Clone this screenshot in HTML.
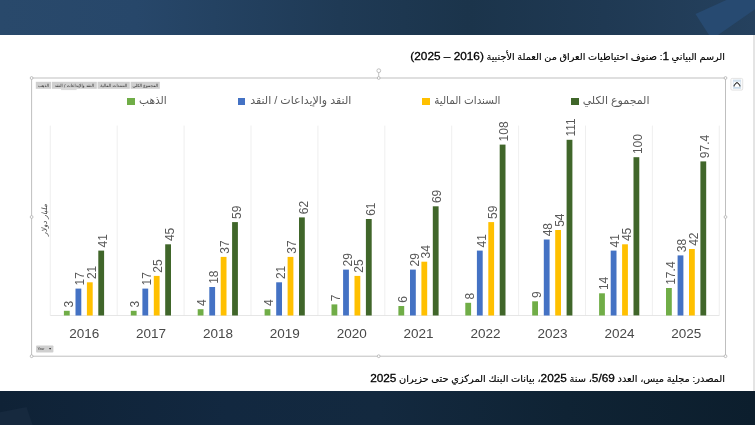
<!DOCTYPE html>
<html lang="ar">
<head>
<meta charset="utf-8">
<title>الرسم البياني 1</title>
<style>
html,body{margin:0;padding:0;}
body{width:755px;height:425px;overflow:hidden;background:#fff;position:relative;font-family:"Liberation Sans","DejaVu Sans",sans-serif;}
.top{position:absolute;left:0;top:0;width:755px;height:35px;background:linear-gradient(90deg,#29496b 0%,#27476a 18%,#1f3a55 45%,#1b344b 62%,#1f3953 80%,#25415e 100%);overflow:hidden;}
.bot{position:absolute;left:0;top:390.6px;width:755px;height:34.4px;background:linear-gradient(90deg,#0f2236 0%,#122840 30%,#13293f 50%,#0f2334 75%,#0c1e2d 100%);overflow:hidden;}
.strip{position:absolute;left:753.3px;top:35px;width:2px;height:355.5px;background:#e4e4e4;}
.t{position:absolute;white-space:nowrap;direction:rtl;color:#000;transform-origin:100% 50%;}
#title{right:30px;top:48.4px;font-size:9.69px;line-height:16px;}
#src{right:30px;top:369.5px;font-size:9.81px;line-height:16px;}
.n{font-size:11.8px;font-family:"Liberation Sans",sans-serif;-webkit-text-stroke:0.3px #000;}
.t{-webkit-text-stroke:0.15px #000;}
.lg{position:absolute;white-space:nowrap;direction:rtl;color:#595959;font-size:11px;line-height:16px;top:91.5px;transform-origin:100% 50%;}
.sq{position:absolute;top:97.5px;width:7.7px;height:7.7px;}
svg{position:absolute;left:0;top:0;}
.dl{font-family:"Liberation Sans",sans-serif;font-size:12px;fill:#595959;}
.yr{font-family:"Liberation Sans",sans-serif;font-size:13.5px;fill:#484848;text-anchor:middle;}
.pb{font-family:"DejaVu Sans",sans-serif;font-size:4.2px;fill:#2a2a2a;text-anchor:middle;direction:rtl;}
</style>
</head>
<body>
<div class="top"><svg width="755" height="35" viewBox="0 0 755 35"><polygon points="695.5,14 726.3,0 755,0 755,9.2 718,35 709,35" fill="#274a71"/></svg></div>
<div class="bot"><svg width="755" height="35" viewBox="0 0 755 35"><polygon points="0,21.2 26.5,15.9 33,35 0,35" fill="#16293e"/></svg></div>
<div class="strip"></div>

<div class="t" id="title">الرسم البياني <span class="n">1</span>: صنوف احتياطيات العراق من العملة الأجنبية <span class="n">(2016 – 2025)</span></div>
<div class="t" id="src">المصدر: مجلية ميس، العدد <span class="n">5/69</span>، سنة <span class="n">2025</span>، بيانات البنك المركزي حتى حزيران <span class="n">2025</span></div>

<svg width="755" height="425" viewBox="0 0 755 425">
<rect x="31.6" y="78" width="693.9" height="278.2" fill="none" stroke="#bfbfbf" stroke-width="1"/>
<line x1="50.3" y1="125.6" x2="50.3" y2="315.5" stroke="#ebebeb" stroke-width="0.8"/>
<line x1="117.2" y1="125.6" x2="117.2" y2="315.5" stroke="#ebebeb" stroke-width="0.8"/>
<line x1="184.1" y1="125.6" x2="184.1" y2="315.5" stroke="#ebebeb" stroke-width="0.8"/>
<line x1="251.0" y1="125.6" x2="251.0" y2="315.5" stroke="#ebebeb" stroke-width="0.8"/>
<line x1="317.9" y1="125.6" x2="317.9" y2="315.5" stroke="#ebebeb" stroke-width="0.8"/>
<line x1="384.8" y1="125.6" x2="384.8" y2="315.5" stroke="#ebebeb" stroke-width="0.8"/>
<line x1="451.7" y1="125.6" x2="451.7" y2="315.5" stroke="#ebebeb" stroke-width="0.8"/>
<line x1="518.6" y1="125.6" x2="518.6" y2="315.5" stroke="#ebebeb" stroke-width="0.8"/>
<line x1="585.5" y1="125.6" x2="585.5" y2="315.5" stroke="#ebebeb" stroke-width="0.8"/>
<line x1="652.4" y1="125.6" x2="652.4" y2="315.5" stroke="#ebebeb" stroke-width="0.8"/>
<line x1="719.3" y1="125.6" x2="719.3" y2="315.5" stroke="#ebebeb" stroke-width="0.8"/>
<line x1="50.3" y1="315.5" x2="719.3" y2="315.5" stroke="#e0e0e0" stroke-width="0.8"/>
<rect x="63.9" y="310.8" width="5.8" height="4.7" fill="#70ad47"/>
<text class="dl" transform="translate(72.5 307.6) rotate(-90)">3</text>
<rect x="75.5" y="288.6" width="5.8" height="26.9" fill="#4472c4"/>
<text class="dl" transform="translate(84.1 285.4) rotate(-90)">17</text>
<rect x="86.9" y="282.3" width="5.8" height="33.2" fill="#ffc000"/>
<text class="dl" transform="translate(95.5 279.1) rotate(-90)">21</text>
<rect x="98.3" y="250.6" width="5.8" height="64.9" fill="#40662a"/>
<text class="dl" transform="translate(106.9 247.4) rotate(-90)">41</text>
<text class="yr" x="84.2" y="338.3">2016</text>
<rect x="130.8" y="310.8" width="5.8" height="4.7" fill="#70ad47"/>
<text class="dl" transform="translate(139.4 307.6) rotate(-90)">3</text>
<rect x="142.4" y="288.6" width="5.8" height="26.9" fill="#4472c4"/>
<text class="dl" transform="translate(151.0 285.4) rotate(-90)">17</text>
<rect x="153.8" y="275.9" width="5.8" height="39.6" fill="#ffc000"/>
<text class="dl" transform="translate(162.4 272.7) rotate(-90)">25</text>
<rect x="165.2" y="244.3" width="5.8" height="71.2" fill="#40662a"/>
<text class="dl" transform="translate(173.8 241.1) rotate(-90)">45</text>
<text class="yr" x="151.1" y="338.3">2017</text>
<rect x="197.7" y="309.2" width="5.8" height="6.3" fill="#70ad47"/>
<text class="dl" transform="translate(206.3 306.0) rotate(-90)">4</text>
<rect x="209.3" y="287.0" width="5.8" height="28.5" fill="#4472c4"/>
<text class="dl" transform="translate(217.9 283.8) rotate(-90)">18</text>
<rect x="220.7" y="256.9" width="5.8" height="58.6" fill="#ffc000"/>
<text class="dl" transform="translate(229.3 253.7) rotate(-90)">37</text>
<rect x="232.1" y="222.1" width="5.8" height="93.4" fill="#40662a"/>
<text class="dl" transform="translate(240.7 218.9) rotate(-90)">59</text>
<text class="yr" x="218.0" y="338.3">2018</text>
<rect x="264.6" y="309.2" width="5.8" height="6.3" fill="#70ad47"/>
<text class="dl" transform="translate(273.2 306.0) rotate(-90)">4</text>
<rect x="276.2" y="282.3" width="5.8" height="33.2" fill="#4472c4"/>
<text class="dl" transform="translate(284.8 279.1) rotate(-90)">21</text>
<rect x="287.6" y="256.9" width="5.8" height="58.6" fill="#ffc000"/>
<text class="dl" transform="translate(296.2 253.7) rotate(-90)">37</text>
<rect x="299.0" y="217.4" width="5.8" height="98.1" fill="#40662a"/>
<text class="dl" transform="translate(307.6 214.2) rotate(-90)">62</text>
<text class="yr" x="284.8" y="338.3">2019</text>
<rect x="331.5" y="304.4" width="5.8" height="11.1" fill="#70ad47"/>
<text class="dl" transform="translate(340.1 301.2) rotate(-90)">7</text>
<rect x="343.1" y="269.6" width="5.8" height="45.9" fill="#4472c4"/>
<text class="dl" transform="translate(351.7 266.4) rotate(-90)">29</text>
<rect x="354.5" y="275.9" width="5.8" height="39.6" fill="#ffc000"/>
<text class="dl" transform="translate(363.1 272.7) rotate(-90)">25</text>
<rect x="365.9" y="219.0" width="5.8" height="96.5" fill="#40662a"/>
<text class="dl" transform="translate(374.5 215.8) rotate(-90)">61</text>
<text class="yr" x="351.8" y="338.3">2020</text>
<rect x="398.4" y="306.0" width="5.8" height="9.5" fill="#70ad47"/>
<text class="dl" transform="translate(407.0 302.8) rotate(-90)">6</text>
<rect x="410.0" y="269.6" width="5.8" height="45.9" fill="#4472c4"/>
<text class="dl" transform="translate(418.6 266.4) rotate(-90)">29</text>
<rect x="421.4" y="261.7" width="5.8" height="53.8" fill="#ffc000"/>
<text class="dl" transform="translate(430.0 258.5) rotate(-90)">34</text>
<rect x="432.8" y="206.3" width="5.8" height="109.2" fill="#40662a"/>
<text class="dl" transform="translate(441.4 203.1) rotate(-90)">69</text>
<text class="yr" x="418.6" y="338.3">2021</text>
<rect x="465.3" y="302.8" width="5.8" height="12.7" fill="#70ad47"/>
<text class="dl" transform="translate(473.9 299.6) rotate(-90)">8</text>
<rect x="476.9" y="250.6" width="5.8" height="64.9" fill="#4472c4"/>
<text class="dl" transform="translate(485.5 247.4) rotate(-90)">41</text>
<rect x="488.3" y="222.1" width="5.8" height="93.4" fill="#ffc000"/>
<text class="dl" transform="translate(496.9 218.9) rotate(-90)">59</text>
<rect x="499.7" y="144.6" width="5.8" height="170.9" fill="#40662a"/>
<text class="dl" transform="translate(508.3 141.4) rotate(-90)">108</text>
<text class="yr" x="485.6" y="338.3">2022</text>
<rect x="532.2" y="301.3" width="5.8" height="14.2" fill="#70ad47"/>
<text class="dl" transform="translate(540.8 298.1) rotate(-90)">9</text>
<rect x="543.8" y="239.5" width="5.8" height="76.0" fill="#4472c4"/>
<text class="dl" transform="translate(552.4 236.3) rotate(-90)">48</text>
<rect x="555.2" y="230.0" width="5.8" height="85.5" fill="#ffc000"/>
<text class="dl" transform="translate(563.8 226.8) rotate(-90)">54</text>
<rect x="566.6" y="139.8" width="5.8" height="175.7" fill="#40662a"/>
<text class="dl" transform="translate(575.2 136.6) rotate(-90)">111</text>
<text class="yr" x="552.5" y="338.3">2023</text>
<rect x="599.1" y="293.3" width="5.8" height="22.2" fill="#70ad47"/>
<text class="dl" transform="translate(607.7 290.1) rotate(-90)">14</text>
<rect x="610.7" y="250.6" width="5.8" height="64.9" fill="#4472c4"/>
<text class="dl" transform="translate(619.3 247.4) rotate(-90)">41</text>
<rect x="622.1" y="244.3" width="5.8" height="71.2" fill="#ffc000"/>
<text class="dl" transform="translate(630.7 241.1) rotate(-90)">45</text>
<rect x="633.5" y="157.2" width="5.8" height="158.2" fill="#40662a"/>
<text class="dl" transform="translate(642.1 154.1) rotate(-90)">100</text>
<text class="yr" x="619.4" y="338.3">2024</text>
<rect x="666.0" y="288.0" width="5.8" height="27.5" fill="#70ad47"/>
<text class="dl" transform="translate(674.6 284.8) rotate(-90)">17.4</text>
<rect x="677.6" y="255.4" width="5.8" height="60.1" fill="#4472c4"/>
<text class="dl" transform="translate(686.2 252.2) rotate(-90)">38</text>
<rect x="689.0" y="249.0" width="5.8" height="66.5" fill="#ffc000"/>
<text class="dl" transform="translate(697.6 245.8) rotate(-90)">42</text>
<rect x="700.4" y="161.4" width="5.8" height="154.1" fill="#40662a"/>
<text class="dl" transform="translate(709.0 158.2) rotate(-90)">97.4</text>
<text class="yr" x="686.2" y="338.3">2025</text>
<g fill="#fff" stroke="#a6a6a6" stroke-width="0.7">
<line x1="378.7" y1="72.5" x2="378.7" y2="78"/>
<circle cx="378.8" cy="70.7" r="1.9"/>
<circle cx="31.6" cy="78" r="1.4"/><circle cx="378.7" cy="78" r="1.4"/><circle cx="725.5" cy="78" r="1.4"/>
<circle cx="31.6" cy="217" r="1.4"/><circle cx="725.5" cy="217" r="1.4"/>
<circle cx="31.6" cy="356.2" r="1.4"/><circle cx="378.7" cy="356.2" r="1.4"/><circle cx="725.5" cy="356.2" r="1.4"/>
</g>
<!-- pivot field buttons -->
<g>
<rect x="35.8" y="81.8" width="15.2" height="7" fill="#cfcfcf"/>
<rect x="51.8" y="81.8" width="45" height="7" fill="#cfcfcf"/>
<rect x="97.6" y="81.8" width="32.2" height="7" fill="#cfcfcf"/>
<rect x="130.6" y="81.8" width="29.2" height="7" fill="#cfcfcf"/>
<rect x="61" y="88.8" width="15.6" height="1.3" fill="#dcdcdc"/>
<text class="pb" x="43.4" y="87">الذهب</text>
<text class="pb" x="74.3" y="87">النقد والإيداعات / النقد</text>
<text class="pb" x="113.7" y="87">السندات المالية</text>
<text class="pb" x="145.2" y="87">المجموع الكلي</text>
<rect x="36.1" y="345.5" width="17.3" height="7.1" rx="0.8" fill="#cfcfcf"/>
<text x="37.5" y="350.3" style="font-family:'Liberation Sans',sans-serif;font-size:3.4px;fill:#333">Year</text>
<polygon points="49,348 51.2,348 50.1,349.8" fill="#333"/>
</g>
<!-- axis title -->
<text transform="translate(46.9 220) rotate(-90)" style="font-family:'DejaVu Sans',sans-serif;font-size:7.5px;font-style:italic;fill:#444;text-anchor:middle;direction:rtl">مليار دولار</text>
<!-- collapse icon -->
<g>
<rect x="730.9" y="78.4" width="11.8" height="11.7" rx="1.2" fill="#fcfcfc" stroke="#d9d9d9" stroke-width="0.7"/>
<rect x="733.2" y="80" width="7.6" height="8.4" fill="#fff" stroke="#b9cfe2" stroke-width="0.5"/>
<rect x="733.4" y="80.2" width="7.2" height="1.5" fill="#c9dcec"/>
<rect x="733.4" y="86.9" width="7.2" height="1.3" fill="#c9dcec"/>
<path d="M734.1 86.5 L734.1 85.5 Q735.6 83.2 737 82.5 Q738.4 83.2 739.9 85.5 L739.9 86.5" fill="none" stroke="#2b2b2b" stroke-width="1.05" stroke-linejoin="round"/>
</g>
</svg>

<div class="sq" style="left:127.2px;background:#70ad47"></div>
<div class="lg" id="l1" style="right:588.4px;transform:scaleX(0.962)">الذهب</div>
<div class="sq" style="left:237.5px;background:#4472c4"></div>
<div class="lg" id="l2" style="right:403.7px">النقد والإيداعات / النقد</div>
<div class="sq" style="left:422.1px;background:#ffc000"></div>
<div class="lg" id="l3" style="right:254.8px;transform:scaleX(0.94)">السندات المالية</div>
<div class="sq" style="left:571.2px;background:#40662a"></div>
<div class="lg" id="l4" style="right:105.5px">المجموع الكلي</div>
</body>
</html>
